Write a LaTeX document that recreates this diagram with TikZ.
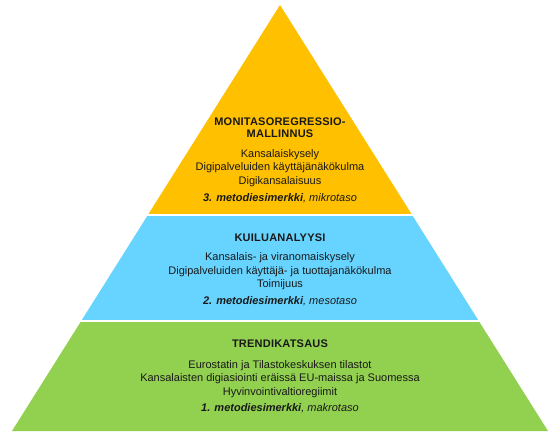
\documentclass[tikz,border=0pt]{standalone}
\usepackage{fontspec}
\setmainfont{Liberation Sans}
\usetikzlibrary{positioning}
\definecolor{PyrYellow}{rgb}{1.0,0.753,0.0}
\definecolor{PyrBlue}{rgb}{0.40,0.831,1.0}
\definecolor{PyrGreen}{rgb}{0.573,0.816,0.314}
\definecolor{Text90}{rgb}{0.1,0.1,0.1}

\begin{document}
\begin{tikzpicture}[x=1pt, y=1pt,
  headtext/.style={Text90, inner sep=0pt, align=center, font=\fontsize{11}{12}\selectfont\bfseries\addfontfeature{LetterSpace=2}},
  bodytext/.style={Text90, inner sep=0pt, align=center, font=\fontsize{11}{13.5}\selectfont},
  methodtext/.style={Text90, inner sep=0pt, align=center, font=\fontsize{11}{13.5}\selectfont\itshape}]

% ============================================================
% Frame: 555 x 440, origin bottom-left
% ============================================================
\useasboundingbox (0,0) rectangle (555,440);
\fill[white] (0,0) rectangle (555,440);

% ============================================================
% Pyramid: apex (280,435), base from (12,9) to (548,9)
% bands cut by clipping, white gaps of 2pt between them
% ============================================================
\begin{scope}
  \clip (12,9) -- (280,435) -- (548,9) -- cycle;
  \fill[PyrYellow] (0,225.5) rectangle (555,440);
  \fill[PyrBlue] (0,120.5) rectangle (555,223.5);
  \fill[PyrGreen] (0,0) rectangle (555,118.5);
\end{scope}

% --- TOP band (yellow): micro level
\node[headtext] (microHead) at (280,312.5) {MONITASOREGRESSIO-\\MALLINNUS};
\node[bodytext] (microBody) at (280,272) {Kansalaiskysely\\Digipalveluiden käyttäjänäkökulma\\Digikansalaisuus};
\node[methodtext] (microMethod) at (280,241.5) {\textbf{3. metodiesimerkki}, mikrotaso};

% --- MIDDLE band (blue): meso level
\node[headtext] (mesoHead) at (280,202.5) {KUILUANALYYSI};
\node[bodytext] (mesoBody) at (280,168.5) {Kansalais- ja viranomaiskysely\\Digipalveluiden käyttäjä- ja tuottajanäkökulma\\Toimijuus};
\node[methodtext] (mesoMethod) at (280,139) {\textbf{2. metodiesimerkki}, mesotaso};

% --- BOTTOM band (green): macro level
\node[headtext] (macroHead) at (280,96) {TRENDIKATSAUS};
\node[bodytext] (macroBody) at (280,61) {Eurostatin ja Tilastokeskuksen tilastot\\Kansalaisten digiasiointi eräissä EU-maissa ja Suomessa\\Hyvinvointivaltioregiimit};
\node[methodtext] (macroMethod) at (280,32) {\textbf{1. metodiesimerkki}, makrotaso};

\end{tikzpicture}
\end{document}
